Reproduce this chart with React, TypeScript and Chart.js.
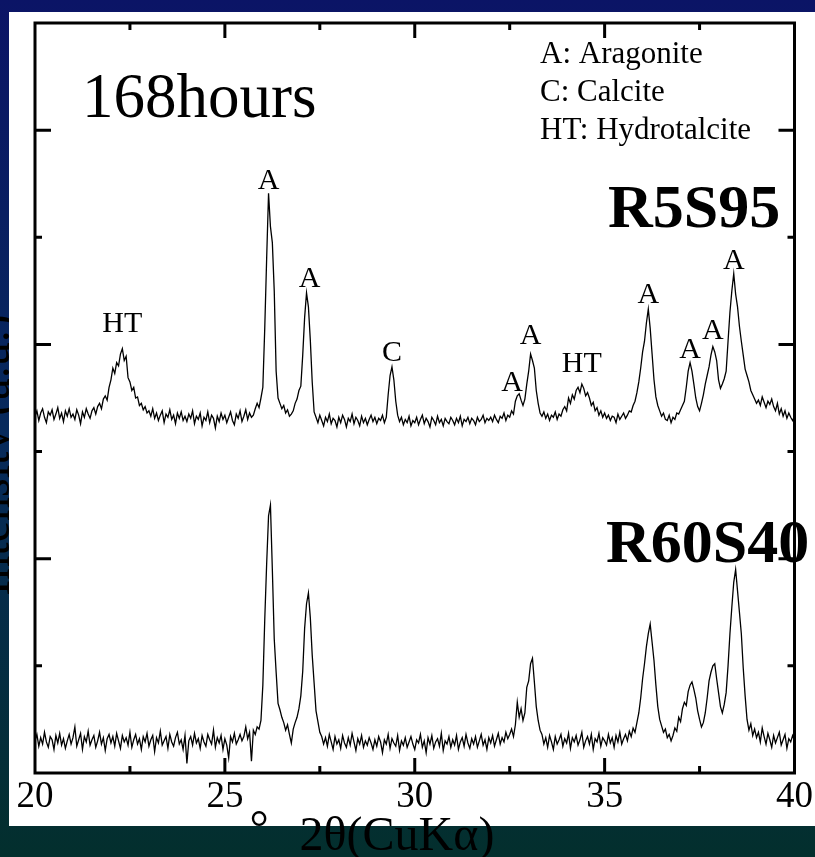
import { useEffect, useRef } from 'react';
import { Chart, registerables } from 'chart.js';

Chart.register(...registerables);

// Scan start / step in degrees 2θ
const SCAN_START = 20;
const SCAN_STEP = 0.05;

// R60S40 pattern, intensity (a.u.), 20.00° … 40.00° every 0.05°
const r60s40 = [
  0.30, 0.36, 0.25, 0.33, 0.27, 0.38, 0.29, 0.24, 0.34, 0.31, 0.22, 0.35, 0.28, 0.37, 0.26, 0.32, 0.23, 0.30, 0.36, 0.27,
  0.33, 0.43, 0.25, 0.31, 0.37, 0.22, 0.34, 0.29, 0.39, 0.26, 0.31, 0.35, 0.24, 0.30, 0.38, 0.27, 0.33, 0.21, 0.32, 0.36,
  0.28, 0.34, 0.25, 0.37, 0.30, 0.23, 0.35, 0.29, 0.33, 0.26, 0.38, 0.24, 0.31, 0.36, 0.27, 0.32, 0.22, 0.34, 0.29, 0.37,
  0.25, 0.31, 0.35, 0.20, 0.33, 0.28, 0.39, 0.26, 0.30, 0.34, 0.23, 0.36, 0.29, 0.25, 0.33, 0.38, 0.27, 0.31, 0.22, 0.35,
  0.09, 0.30, 0.34, 0.26, 0.37, 0.28, 0.32, 0.23, 0.35, 0.29, 0.25, 0.36, 0.31, 0.27, 0.40, 0.24, 0.33, 0.28, 0.35, 0.22,
  0.32, 0.26, 0.14, 0.34, 0.29, 0.37, 0.27, 0.31, 0.36, 0.30, 0.34, 0.43, 0.32, 0.38, 0.11, 0.40, 0.36, 0.43, 0.41, 0.49,
  0.82, 1.43, 1.95, 2.40, 2.50, 1.90, 1.25, 0.94, 0.65, 0.59, 0.52, 0.47, 0.40, 0.45, 0.36, 0.28, 0.41, 0.47, 0.52, 0.60,
  0.72, 0.95, 1.35, 1.58, 1.68, 1.45, 1.10, 0.84, 0.58, 0.48, 0.38, 0.34, 0.27, 0.33, 0.25, 0.36, 0.29, 0.22, 0.34, 0.27,
  0.31, 0.23, 0.35, 0.28, 0.24, 0.33, 0.26, 0.37, 0.29, 0.21, 0.32, 0.27, 0.35, 0.24, 0.30, 0.26, 0.33, 0.28, 0.22, 0.31,
  0.25, 0.34, 0.29, 0.19, 0.31, 0.27, 0.36, 0.23, 0.32, 0.28, 0.25, 0.35, 0.21, 0.30, 0.26, 0.33, 0.24, 0.29, 0.34, 0.27,
  0.22, 0.31, 0.28, 0.36, 0.24, 0.30, 0.19, 0.33, 0.27, 0.35, 0.23, 0.29, 0.32, 0.25, 0.37, 0.21, 0.30, 0.27, 0.34, 0.24,
  0.31, 0.26, 0.35, 0.22, 0.29, 0.33, 0.25, 0.36, 0.28, 0.23, 0.32, 0.27, 0.34, 0.24, 0.30, 0.36, 0.26, 0.31, 0.22, 0.33,
  0.28, 0.35, 0.25, 0.31, 0.37, 0.27, 0.33, 0.29, 0.38, 0.32, 0.36, 0.41, 0.34, 0.45, 0.66, 0.52, 0.60, 0.49, 0.56, 0.80,
  0.86, 1.02, 1.07, 0.85, 0.62, 0.49, 0.40, 0.36, 0.27, 0.33, 0.24, 0.35, 0.29, 0.22, 0.34, 0.27, 0.31, 0.36, 0.25, 0.32,
  0.28, 0.37, 0.23, 0.33, 0.29, 0.35, 0.26, 0.31, 0.38, 0.24, 0.30, 0.34, 0.27, 0.36, 0.22, 0.32, 0.29, 0.37, 0.25, 0.33,
  0.30, 0.26, 0.36, 0.28, 0.33, 0.24, 0.35, 0.29, 0.38, 0.27, 0.32, 0.36, 0.30, 0.39, 0.34, 0.42, 0.38, 0.47, 0.56, 0.70,
  0.88, 1.02, 1.18, 1.30, 1.39, 1.22, 1.05, 0.82, 0.62, 0.50, 0.44, 0.38, 0.41, 0.33, 0.36, 0.30, 0.35, 0.42, 0.39, 0.52,
  0.48, 0.60, 0.66, 0.63, 0.76, 0.82, 0.85, 0.78, 0.70, 0.58, 0.50, 0.43, 0.47, 0.56, 0.70, 0.86, 0.94, 1.00, 1.02, 0.88,
  0.75, 0.62, 0.56, 0.64, 0.75, 1.00, 1.30, 1.55, 1.78, 1.90, 1.70, 1.50, 1.30, 0.98, 0.72, 0.50, 0.40, 0.46, 0.35, 0.41,
  0.33, 0.38, 0.29, 0.42, 0.34, 0.27, 0.37, 0.31, 0.24, 0.35, 0.28, 0.33, 0.38, 0.26, 0.31, 0.36, 0.23, 0.32, 0.29, 0.35,
  0.30,
];

// R5S95 pattern, intensity (a.u.), same scan range
const r5s95 = [
  0.28, 0.33, 0.24, 0.31, 0.35, 0.27, 0.22, 0.32, 0.29, 0.34, 0.25, 0.30, 0.36, 0.26, 0.31, 0.23, 0.33, 0.28, 0.35, 0.27,
  0.30, 0.25, 0.34, 0.29, 0.21, 0.32, 0.27, 0.35, 0.30, 0.26, 0.33, 0.36, 0.30, 0.37, 0.40, 0.35, 0.44, 0.47, 0.43, 0.55,
  0.62, 0.73, 0.68, 0.78, 0.75, 0.86, 0.91, 0.80, 0.84, 0.64, 0.60, 0.52, 0.55, 0.45, 0.46, 0.38, 0.40, 0.34, 0.37, 0.31,
  0.33, 0.28, 0.35, 0.26, 0.31, 0.24, 0.29, 0.33, 0.22, 0.30, 0.27, 0.34, 0.25, 0.29, 0.21, 0.31, 0.26, 0.32, 0.24, 0.28,
  0.23, 0.30, 0.26, 0.33, 0.21, 0.28, 0.25, 0.31, 0.19, 0.27, 0.24, 0.32, 0.22, 0.29, 0.26, 0.17, 0.28, 0.23, 0.31, 0.25,
  0.29, 0.22, 0.27, 0.32, 0.24, 0.20, 0.30, 0.26, 0.33, 0.23, 0.28, 0.34, 0.25, 0.31, 0.27, 0.29, 0.35, 0.40, 0.36, 0.45,
  0.55, 1.10, 1.75, 2.36, 2.05, 1.90, 1.45, 0.70, 0.45, 0.40, 0.35, 0.38, 0.31, 0.34, 0.28, 0.30, 0.33, 0.40, 0.44, 0.52,
  0.56, 0.85, 1.20, 1.43, 1.30, 0.99, 0.60, 0.32, 0.27, 0.22, 0.29, 0.24, 0.19, 0.27, 0.23, 0.30, 0.21, 0.26, 0.24, 0.18,
  0.27, 0.22, 0.29, 0.25, 0.18, 0.26, 0.23, 0.30, 0.21, 0.27, 0.24, 0.19, 0.28, 0.22, 0.26, 0.20, 0.25, 0.29, 0.23, 0.27,
  0.21, 0.26, 0.24, 0.29, 0.22, 0.27, 0.48, 0.66, 0.74, 0.62, 0.42, 0.29, 0.23, 0.27, 0.20, 0.25, 0.22, 0.28, 0.19, 0.24,
  0.22, 0.27, 0.20, 0.25, 0.29, 0.21, 0.26, 0.23, 0.18, 0.27, 0.24, 0.20, 0.28, 0.22, 0.25, 0.19, 0.26, 0.23, 0.21, 0.27,
  0.24, 0.20, 0.26, 0.22, 0.28, 0.19, 0.25, 0.23, 0.27, 0.21, 0.26, 0.24, 0.20, 0.27, 0.23, 0.25, 0.29, 0.22, 0.26, 0.24,
  0.27, 0.23, 0.29, 0.25, 0.22, 0.28, 0.26, 0.31, 0.24, 0.29, 0.27, 0.33, 0.30, 0.42, 0.47, 0.49, 0.43, 0.38, 0.44, 0.58,
  0.70, 0.86, 0.80, 0.73, 0.52, 0.40, 0.31, 0.28, 0.32, 0.26, 0.30, 0.24, 0.29, 0.27, 0.32, 0.25, 0.30, 0.28, 0.34, 0.37,
  0.33, 0.45, 0.40, 0.48, 0.44, 0.52, 0.55, 0.50, 0.58, 0.54, 0.47, 0.50, 0.45, 0.38, 0.41, 0.33, 0.36, 0.29, 0.33, 0.27,
  0.31, 0.26, 0.29, 0.24, 0.28, 0.27, 0.22, 0.30, 0.25, 0.28, 0.31, 0.26, 0.29, 0.33, 0.32, 0.38, 0.42, 0.50, 0.60, 0.73,
  0.88, 0.98, 1.15, 1.28, 1.10, 0.86, 0.62, 0.46, 0.38, 0.33, 0.28, 0.31, 0.25, 0.24, 0.29, 0.22, 0.27, 0.25, 0.31, 0.30,
  0.34, 0.38, 0.42, 0.55, 0.70, 0.78, 0.70, 0.58, 0.45, 0.37, 0.33, 0.40, 0.48, 0.58, 0.66, 0.74, 0.85, 0.93, 0.88, 0.80,
  0.62, 0.54, 0.58, 0.63, 0.70, 0.98, 1.25, 1.45, 1.61, 1.42, 1.30, 1.12, 0.98, 0.85, 0.72, 0.66, 0.60, 0.52, 0.48, 0.44,
  0.40, 0.43, 0.38, 0.46, 0.41, 0.36, 0.42, 0.39, 0.44, 0.37, 0.33, 0.40, 0.30, 0.35, 0.28, 0.33, 0.26, 0.31, 0.27, 0.24,
  0.28,
];

// Vertical shift of the R5S95 trace above R60S40
const R5S95_SHIFT = 3.05;

// Axis ranges and ticks
const X_MIN = 20;
const X_MAX = 40;
const X_LABEL_STEP = 5;
const xMajorTicks = [25, 30, 35];
const xMinorTicks = [22.5, 27.5, 32.5, 37.5];
const Y_MIN = 0;
const Y_MAX = 7;
const yMajorTicks = [2, 4, 6];
const yMinorTicks = [1, 3, 5];

// Texts
const panelTitle = '168hours';
const legendLines = ['A: Aragonite', 'C: Calcite', 'HT: Hydrotalcite'];
const sampleNames = ['R5S95', 'R60S40'];
const xAxisTitle = '2θ(CuKα)';
const yAxisTitle = 'Intensity (a.u.)';

// Phase labels on the R5S95 peaks (position in degrees 2θ)
const peakPhases = ['HT', 'A', 'A', 'C', 'A', 'A', 'HT', 'A', 'A', 'A', 'A'];
const peakAngles = [22.3, 26.15, 27.15, 29.4, 32.75, 33.05, 34.4, 36.15, 37.25, 37.85, 38.4];

const SERIF = "'Liberation Serif', 'Times New Roman', serif";

const toPoints = (values: number[], shift: number) =>
  values.map((v, i) => ({ x: +(SCAN_START + i * SCAN_STEP).toFixed(2), y: v + shift }));

// label lift above peak top (px) and horizontal nudge (px)
const labelLift = [17, 4, 6, 6, 3, 10, 12, 6, 5, 8, 5];
const labelNudge = [0, 0, 3, 0, -7, 0, 0, 0, 0, 0, 0];

const slidePlugin = {
  id: 'slideDecor',
  beforeDraw(chart: any) {
    const { ctx, width, height } = chart;
    ctx.save();
    const g = ctx.createLinearGradient(0, 0, 0, height);
    g.addColorStop(0, '#0b1466');
    g.addColorStop(0.5, '#072a5c');
    g.addColorStop(1, '#032f2d');
    ctx.fillStyle = g;
    ctx.fillRect(0, 0, width, height);

    // y-axis caption, largely hidden behind the white panel
    ctx.save();
    ctx.translate(9, 455);
    ctx.rotate(-Math.PI / 2);
    ctx.fillStyle = '#000';
    ctx.font = `48px ${SERIF}`;
    ctx.textAlign = 'center';
    ctx.textBaseline = 'alphabetic';
    ctx.fillText(yAxisTitle, 0, 0);
    ctx.restore();

    ctx.fillStyle = '#ffffff';
    ctx.fillRect(9, 12, width - 9, 826 - 12);
    ctx.restore();
  },
  afterDraw(chart: any) {
    const { ctx, chartArea: ca, scales } = chart;
    const xs = scales.x;
    const ys = scales.y;
    ctx.save();
    ctx.strokeStyle = '#000';
    ctx.lineWidth = 3;
    ctx.lineCap = 'butt';

    const vTick = (v: number, len: number) => {
      const px = xs.getPixelForValue(v);
      ctx.beginPath();
      ctx.moveTo(px, ca.bottom);
      ctx.lineTo(px, ca.bottom - len);
      ctx.moveTo(px, ca.top);
      ctx.lineTo(px, ca.top + len);
      ctx.stroke();
    };
    xMajorTicks.forEach((v) => vTick(v, 15));
    xMinorTicks.forEach((v) => vTick(v, 7));

    const hTick = (v: number, len: number) => {
      const py = ys.getPixelForValue(v);
      ctx.beginPath();
      ctx.moveTo(ca.left, py);
      ctx.lineTo(ca.left + len, py);
      ctx.moveTo(ca.right, py);
      ctx.lineTo(ca.right - len, py);
      ctx.stroke();
    };
    yMajorTicks.forEach((v) => hTick(v, 16));
    yMinorTicks.forEach((v) => hTick(v, 7));

    ctx.strokeRect(ca.left, ca.top, ca.right - ca.left, ca.bottom - ca.top);

    ctx.fillStyle = '#000';
    ctx.textBaseline = 'alphabetic';

    ctx.textAlign = 'left';
    ctx.font = `63px ${SERIF}`;
    ctx.fillText(panelTitle, 82, 117);

    ctx.font = `31px ${SERIF}`;
    legendLines.forEach((t, i) => ctx.fillText(t, 540, 63 + i * 38));

    ctx.font = `bold 62px ${SERIF}`;
    ctx.fillText(sampleNames[0], 608, 227);
    ctx.fillText(sampleNames[1], 606, 562);

    // phase labels above peaks of the R5S95 trace
    ctx.font = `30px ${SERIF}`;
    ctx.textAlign = 'center';
    peakPhases.forEach((label, i) => {
      const a = peakAngles[i];
      let top = -Infinity;
      r5s95.forEach((v, k) => {
        const x = SCAN_START + k * SCAN_STEP;
        if (Math.abs(x - a) <= 0.08) top = Math.max(top, v);
      });
      const py = ys.getPixelForValue(top + R5S95_SHIFT);
      ctx.fillText(label, xs.getPixelForValue(a) + labelNudge[i], py - labelLift[i]);
    });

    // x-axis caption with detached degree sign
    ctx.font = `48px ${SERIF}`;
    ctx.fillText('°', 259, 844);
    ctx.fillText(xAxisTitle, 397, 850);
    ctx.restore();
  },
};

export default function App() {
  const canvasRef = useRef<HTMLCanvasElement>(null);

  useEffect(() => {
    document.body.style.margin = '0';
    const canvas = canvasRef.current;
    if (!canvas) return;
    const chart = new Chart(canvas, {
      type: 'line',
      data: {
        datasets: [
          {
            label: sampleNames[0],
            data: toPoints(r5s95, R5S95_SHIFT),
            borderColor: '#000',
            borderWidth: 1.3,
            pointRadius: 0,
            tension: 0,
          },
          {
            label: sampleNames[1],
            data: toPoints(r60s40, 0),
            borderColor: '#000',
            borderWidth: 1.3,
            pointRadius: 0,
            tension: 0,
          },
        ],
      },
      options: {
        animation: false,
        responsive: false,
        devicePixelRatio: 1,
        parsing: false,
        layout: { padding: { left: 35, right: 20, top: 23, bottom: 0 } },
        plugins: {
          legend: { display: false },
          tooltip: { enabled: false },
        },
        scales: {
          x: {
            type: 'linear',
            min: X_MIN,
            max: X_MAX,
            grid: { display: false, drawTicks: false },
            border: { display: false },
            ticks: {
              stepSize: X_LABEL_STEP,
              color: '#000',
              font: { family: SERIF, size: 37 },
              padding: 2,
              maxRotation: 0,
              autoSkip: false,
            },
            afterFit: (scale: any) => {
              scale.height = 84;
            },
          },
          y: {
            type: 'linear',
            min: Y_MIN,
            max: Y_MAX,
            display: false,
          },
        },
      },
      plugins: [slidePlugin],
    });
    return () => chart.destroy();
  }, []);

  return (
    <canvas
      ref={canvasRef}
      width={815}
      height={857}
      style={{ display: 'block', width: 815, height: 857 }}
    />
  );
}
